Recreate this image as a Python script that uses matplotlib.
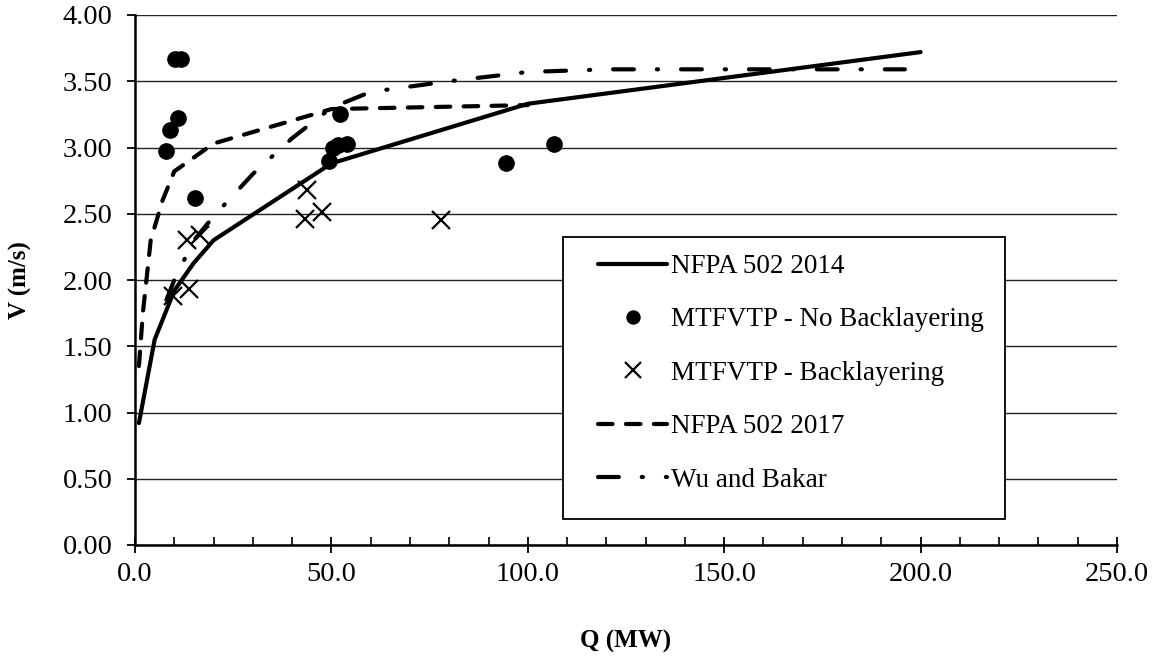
import numpy as np
import matplotlib.pyplot as plt
from matplotlib.patches import Rectangle
from matplotlib.ticker import MultipleLocator, FormatStrFormatter

plt.rcParams['font.family'] = ['Liberation Serif', 'DejaVu Serif']

# NFPA 502 2014 critical velocity curve
q2014 = [1, 5, 10, 15, 20, 50, 100, 200]
v2014 = [0.92, 1.55, 1.92, 2.13, 2.30, 2.88, 3.33, 3.72]

# NFPA 502 2017 curve
q2017 = [1, 2, 4, 7, 10, 20, 50, 100]
v2017 = [1.35, 1.75, 2.30, 2.60, 2.82, 3.03, 3.29, 3.32]

# Wu and Bakar curve
qWu = [8, 10, 15, 20, 30, 40, 50, 60, 80, 100, 120, 196]
vWu = [1.85, 2.00, 2.30, 2.48, 2.80, 3.07, 3.30, 3.42, 3.50, 3.57, 3.59, 3.59]

# MTFVTP simulations
qNoBack = [7.9, 8.9, 11.0, 10.2, 11.6, 15.3, 49.5, 50.5, 51.6, 54.0, 52.3, 94.4, 106.6]
vNoBack = [2.97, 3.13, 3.22, 3.67, 3.67, 2.62, 2.90, 3.00, 3.02, 3.03, 3.25, 2.88, 3.03]

qBack = [9.7, 13.8, 13.2, 16.5, 43.9, 43.4, 47.7, 77.8]
vBack = [1.88, 1.93, 2.30, 2.34, 2.68, 2.46, 2.51, 2.45]

W, H = 1154, 659
x0, x1, y0, y1 = 135, 1117, 545, 15   # plot area in pixels
fig = plt.figure(figsize=(W / 100, H / 100), dpi=100)
ax = fig.add_axes([x0 / W, 1 - y0 / H, (x1 - x0) / W, (y0 - y1) / H])

def ax_x(px):
    return (px - x0) / (x1 - x0)

def ax_y(py):
    return (y0 - py) / (y0 - y1)

ax.plot(q2014, v2014, color='black', lw=3, solid_joinstyle='round',
        solid_capstyle='round', label='NFPA 502 2014', zorder=3)
ax.plot(qNoBack, vNoBack, 'o', color='black', ms=11, ls='none',
        label='MTFVTP - No Backlayering', zorder=4)
ax.plot(qBack, vBack, 'x', color='black', ms=13, mew=1.6, ls='none',
        label='MTFVTP - Backlayering', zorder=4)
ax.plot(q2017, v2017, color='black', lw=3, dashes=(3.5, 3.2),
        dash_capstyle='round', label='NFPA 502 2017', zorder=3)
ax.plot(qWu, vWu, color='black', lw=3, dashes=(5, 5.5, 0.3, 5.5),
        dash_capstyle='round', label='Wu and Bakar', zorder=3)

ax.set_xlim(0, 250)
ax.set_ylim(0, 4)
ax.xaxis.set_major_locator(MultipleLocator(50))
ax.xaxis.set_minor_locator(MultipleLocator(10))
ax.yaxis.set_major_locator(MultipleLocator(0.5))
ax.xaxis.set_major_formatter(FormatStrFormatter('%.1f'))
ax.yaxis.set_major_formatter(FormatStrFormatter('%.2f'))

ax.grid(axis='y', color='#222222', lw=1.0, zorder=1)
ax.set_axisbelow(True)
for s in ['top', 'right']:
    ax.spines[s].set_visible(False)
for s in ['left', 'bottom']:
    ax.spines[s].set_linewidth(1.8)

ax.tick_params(axis='x', which='major', direction='inout', length=12, width=1.3,
               labelsize=20.5, pad=6)
ax.tick_params(axis='x', which='minor', direction='in', length=6, width=1.2)
ax.tick_params(axis='y', which='major', direction='out', length=6, width=1.3,
               labelsize=20.5, pad=10)

ax.set_xlabel('Q (MW)', fontsize=18, fontweight='bold')
ax.set_ylabel('V (m/s)', fontsize=18, fontweight='bold')
ax.xaxis.set_label_coords(ax_x(626), ax_y(630))
ax.yaxis.set_label_coords(ax_x(32), ax_y(280))

# legend box
box = Rectangle((ax_x(563), ax_y(519)), ax_x(1005) - ax_x(563), ax_y(237) - ax_y(519),
                transform=ax.transAxes, facecolor='white', edgecolor='black',
                lw=1.3, zorder=5)
ax.add_patch(box)
leg = ax.legend(loc='upper left', bbox_to_anchor=(ax_x(598), ax_y(254)),
                fontsize=19.5, frameon=False, handlelength=2.55, handletextpad=0.15,
                labelspacing=1.05, borderpad=0, borderaxespad=0, markerscale=0.85)
leg.set_zorder(6)

fig.savefig('out.png', dpi=100)
